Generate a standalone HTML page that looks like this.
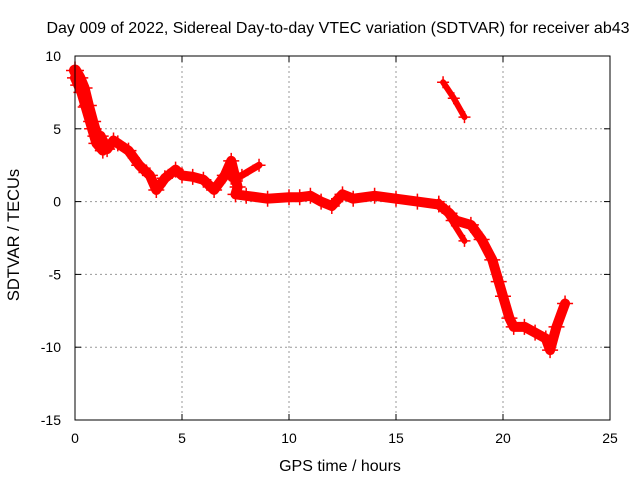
<!DOCTYPE html>
<html><head><meta charset="utf-8"><style>
body{margin:0;background:#fff;}
svg{display:block;font-family:"Liberation Sans",sans-serif;}
</style></head><body>
<svg id="chart" width="640" height="480">
<text x="338" y="33" font-size="16" text-anchor="middle">Day 009 of 2022, Sidereal Day-to-day VTEC variation (SDTVAR) for receiver ab43</text>
<g id="grid"></g><g id="series"></g><g id="axes"></g>
<text x="340" y="471" font-size="16" text-anchor="middle">GPS time / hours</text>
<text transform="translate(19,235) rotate(-90)" font-size="16.5" text-anchor="middle">SDTVAR / TECUs</text>
</svg>
<script>
const xTicks=[0,5,10,15,20,25];
const yTicks=[10,5,0,-5,-10,-15];
const mainHours=[0,0.15,0.3,0.5,0.8,1.0,1.3,1.2,1.5,1.8,2.0,2.5,3.0,3.5,3.8,4.2,4.7,5.0,5.5,6.0,6.5,7.0,7.3,7.6,7.5,8.0,9.0,10.0,10.5,11.0,11.5,12.0,12.5,13.0,14.0,15.0,16.0,17.0,17.5,17.8,18.5,19.0,19.5,19.8,20.0,20.3,20.5,21.0,21.5,22.0,22.2,22.5,22.9];
const mainValues=[8.5,8.0,7.5,6.5,5.0,4.0,3.5,4.5,3.6,4.2,4.0,3.5,2.5,1.8,0.8,1.6,2.2,1.8,1.7,1.5,0.8,1.8,2.8,1.0,0.5,0.4,0.2,0.3,0.3,0.4,0.0,-0.3,0.5,0.2,0.4,0.2,0.0,-0.2,-0.8,-1.3,-1.6,-2.6,-4.0,-5.5,-6.5,-8.0,-8.6,-8.6,-9.0,-9.4,-10.2,-8.6,-7.0];
const earlyHours=[0,0.2,0.4,0.6,0.8,1.0];
const earlyValues=[9.0,8.5,7.8,6.6,5.5,4.5];
const branchHours=[7.3,7.8,8.6];
const branchValues=[1.6,1.8,2.5];
const splitHours=[17.0,17.6,18.2];
const splitValues=[0.0,-1.3,-2.7];
const topHours=[17.2,17.7,18.2];
const topValues=[8.2,7.1,5.8];
const X0=75,X1=610,Y0=56,Y1=420;
const sx=h=>X0+(h-0)/(25-0)*(X1-X0);
const sy=v=>Y0+(10-v)/(10-(-15))*(Y1-Y0);
const NS="http://www.w3.org/2000/svg";
const mk=(t,a,p)=>{const e=document.createElementNS(NS,t);for(const k in a)e.setAttribute(k,a[k]);p.appendChild(e);return e;};
const grid=document.getElementById('grid'),axes=document.getElementById('axes'),ser=document.getElementById('series');
xTicks.forEach(t=>{
 if(t>0&&t<25){const g=mk('line',{x1:sx(t),x2:sx(t),y1:Y0,y2:Y1,stroke:'#999','stroke-dasharray':'2,3'},grid);
 
 }
 mk('line',{x1:sx(t),x2:sx(t),y1:Y1,y2:Y1-6,stroke:'#000'},axes);
 mk('line',{x1:sx(t),x2:sx(t),y1:Y0,y2:Y0+6,stroke:'#000'},axes);
 const l=mk('text',{x:sx(t),y:Y1+23,'font-size':14,'text-anchor':'middle'},axes);l.textContent=t;
 
 
});
yTicks.forEach(t=>{
 if(t<10&&t>-15){const g=mk('line',{x1:X0,x2:X1,y1:sy(t),y2:sy(t),stroke:'#999','stroke-dasharray':'2,3'},grid);
 
 }
 mk('line',{x1:X0,x2:X0+6,y1:sy(t),y2:sy(t),stroke:'#000'},axes);
 mk('line',{x1:X1,x2:X1-6,y1:sy(t),y2:sy(t),stroke:'#000'},axes);
 const l=mk('text',{x:X0-14,y:sy(t)+5,'font-size':14,'text-anchor':'end'},axes);l.textContent=t;
 
 
});
const b=mk('rect',{x:X0,y:Y0,width:X1-X0,height:Y1-Y0,fill:'none',stroke:'#000'},axes);


function series(hs,vs,w,name){
 const pts=hs.map((h,i)=>sx(h)+','+sy(vs[i])).join(' ');
 const p=mk('polyline',{points:pts,fill:'none',stroke:'#f00','stroke-width':w,'stroke-linejoin':'round','stroke-linecap':'round'},ser);
 
 
 hs.forEach((h,i)=>{const x=sx(h),y=sy(vs[i]);
  const m=mk('path',{d:`M${x-w/2-3},${y}H${x+w/2+3}M${x},${y-w/2-3}V${y+w/2+3}`,stroke:'#f00','stroke-width':1.5},ser);
  
  });
}
series(mainHours,mainValues,10,'sdtvar-main-series');
series(earlyHours,earlyValues,12,'sdtvar-early-series');
series(branchHours,branchValues,7,'sdtvar-branch-series');
series(splitHours,splitValues,6,'sdtvar-split-series');
series(topHours,topValues,6,'sdtvar-top-series');
</script>
</body></html>
